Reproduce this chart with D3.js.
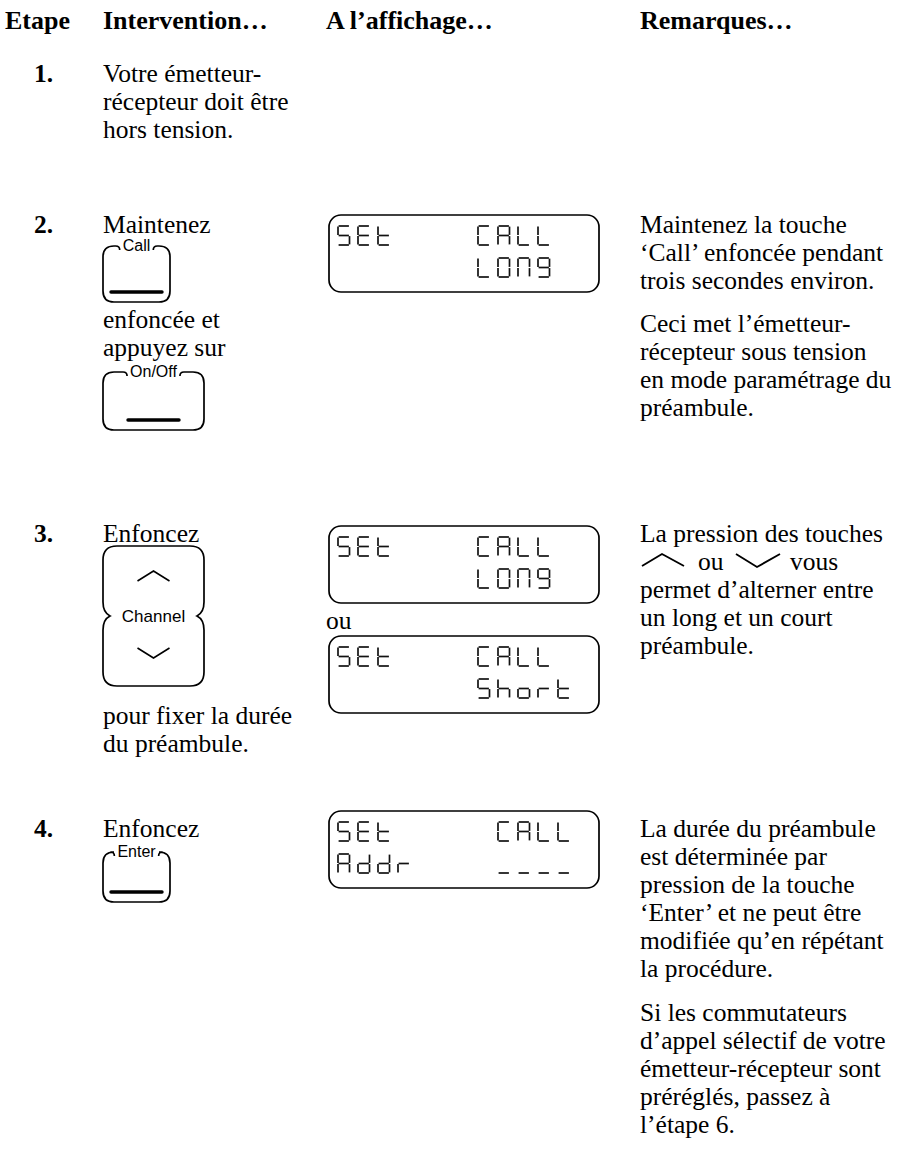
<!DOCTYPE html>
<html><head><meta charset="utf-8">
<script src="https://cdn.jsdelivr.net/npm/d3@7"></script>
<style>body{margin:0;background:#fff}svg{display:block}</style>
</head><body>
<svg id="c" width="903" height="1160"></svg>
<script>
// ---------- content ----------
const headerLabels = ["Etape", "Intervention…", "A l’affichage…", "Remarques…"];
const stepNumbers = ["1.", "2.", "3.", "4."];
const step1Text = ["Votre émetteur-", "récepteur doit être", "hors tension."];
const step2Before = ["Maintenez"];
const step2Middle = ["enfoncée et", "appuyez sur"];
const step3Before = ["Enfoncez"];
const step3After = ["pour fixer la durée", "du préambule."];
const step4Before = ["Enfoncez"];
const buttonLabels = ["Call", "On/Off", "Channel", "Enter"];
const lcdScreens = [
  ["SEt    CALL ", "       LONG "],
  ["SEt    CALL ", "       LONG "],
  ["SEt    CALL ", "       Short"],
  ["SEt     CALL", "Addr    ----"]
];
const orWord = "ou";
const remarks2 = [
  ["Maintenez la touche", "‘Call’ enfoncée pendant", "trois secondes environ."],
  ["Ceci met l’émetteur-", "récepteur sous tension", "en mode paramétrage du", "préambule."]
];
const remarks3 = ["La pression des touches", "", "permet d’alterner entre", "un long et un court", "préambule."];
const remarks3Inline = ["ou", "vous"];
const remarks4 = [
  ["La durée du préambule", "est déterminée par", "pression de la touche", "‘Enter’ et ne peut être", "modifiée qu’en répétant", "la procédure."],
  ["Si les commutateurs", "d’appel sélectif de votre", "émetteur-récepteur sont", "préréglés, passez à", "l’étape 6."]
];

// ---------- layout ----------
const svg = d3.select("#c");
const SERIF = "'Liberation Serif', 'Times New Roman', serif";
const SANS = "'Liberation Sans', Arial, sans-serif";
const FS = 25.5, LH = 28, HFS = 26;
const INK = "#000";
const colX = d3.scaleOrdinal().domain(headerLabels).range([5, 103, 326, 640]);
const numX = 34;

function lines(arr, x, y0, opts = {}) {
  const ly = d3.scaleLinear().domain([0, 1]).range([y0, y0 + LH]);
  svg.append("g").selectAll("text").data(arr).join("text")
    .attr("x", x).attr("y", (d, i) => ly(i))
    .attr("font-family", SERIF).attr("font-size", FS)
    .attr("fill", INK).text(d => d);
}
function paragraphs(paras, x, y0, gap) {
  let y = y0;
  paras.forEach(p => { lines(p, x, y); y += p.length * LH + gap; });
}

// header
svg.append("g").selectAll("text").data(headerLabels).join("text")
  .attr("x", d => colX(d)).attr("y", 29)
  .attr("font-family", SERIF).attr("font-size", HFS).attr("font-weight", "bold")
  .attr("fill", INK).text(d => d);

// step numbers
const stepY = d3.scaleOrdinal().domain(stepNumbers).range([82, 233, 542, 837]);
svg.append("g").selectAll("text").data(stepNumbers).join("text")
  .attr("x", numX).attr("y", d => stepY(d))
  .attr("font-family", SERIF).attr("font-size", FS).attr("font-weight", "bold")
  .attr("fill", INK).text(d => d);

const cx = colX(headerLabels[1]);
lines(step1Text, cx, stepY("1."));
lines(step2Before, cx, stepY("2."));
lines(step2Middle, cx, 328);
lines(step3Before, cx, stepY("3."));
lines(step3After, cx, 724);
lines(step4Before, cx, stepY("4."));

// ---------- buttons ----------
function labelledButton(x, y, w, h, label, barInset) {
  const g = svg.append("g");
  const t = g.append("text").attr("x", x + w / 2).attr("y", y + 5)
    .attr("text-anchor", "middle").attr("font-family", SANS).attr("font-size", 16)
    .attr("fill", INK).text(label);
  const tw = t.node().getComputedTextLength();
  const gx1 = x + w / 2 - tw / 2 - 3, gx2 = x + w / 2 + tw / 2 + 3, r = 11;
  const p = d3.path();
  p.moveTo(gx1, y + 4);
  p.quadraticCurveTo(gx1, y, gx1 - 4, y);
  p.lineTo(x + r, y);
  p.quadraticCurveTo(x, y, x, y + r);
  p.lineTo(x, y + h - r);
  p.quadraticCurveTo(x, y + h, x + r, y + h);
  p.lineTo(x + w - r, y + h);
  p.quadraticCurveTo(x + w, y + h, x + w, y + h - r);
  p.lineTo(x + w, y + r);
  p.quadraticCurveTo(x + w, y, x + w - r, y);
  p.lineTo(gx2 + 4, y);
  p.quadraticCurveTo(gx2, y, gx2, y + 4);
  g.append("path").attr("d", p.toString()).attr("fill", "none").attr("stroke", INK).attr("stroke-width", 1.7);
  g.append("line").attr("x1", x + barInset).attr("x2", x + w - barInset)
    .attr("y1", y + h - 10).attr("y2", y + h - 10)
    .attr("stroke", INK).attr("stroke-width", 3.4).attr("stroke-linecap", "round");
}
labelledButton(103, 246, 67, 56, buttonLabels[0], 8);
labelledButton(103, 372, 101, 58, buttonLabels[1], 25);
labelledButton(103, 852, 67, 50, buttonLabels[3], 8);

// channel button
(function () {
  const x0 = 103, x1 = 204, y0 = 546, y1 = 686, mid = (y0 + y1) / 2, r = 14;
  const g = svg.append("g");
  const p = d3.path();
  p.moveTo(x0 + r, y0);
  p.lineTo(x1 - r, y0);
  p.quadraticCurveTo(x1, y0, x1, y0 + r);
  p.lineTo(x1, mid - 14);
  p.bezierCurveTo(x1, mid - 5, x1 - 3, mid - 2, x1 - 7, mid);
  p.bezierCurveTo(x1 - 3, mid + 2, x1, mid + 5, x1, mid + 14);
  p.lineTo(x1, y1 - r);
  p.quadraticCurveTo(x1, y1, x1 - r, y1);
  p.lineTo(x0 + r, y1);
  p.quadraticCurveTo(x0, y1, x0, y1 - r);
  p.lineTo(x0, mid + 14);
  p.bezierCurveTo(x0, mid + 5, x0 + 3, mid + 2, x0 + 7, mid);
  p.bezierCurveTo(x0 + 3, mid - 2, x0, mid - 5, x0, mid - 14);
  p.lineTo(x0, y0 + r);
  p.quadraticCurveTo(x0, y0, x0 + r, y0);
  p.closePath();
  g.append("path").attr("d", p.toString()).attr("fill", "none").attr("stroke", INK).attr("stroke-width", 1.7);
  g.append("text").attr("x", (x0 + x1) / 2).attr("y", mid + 6).attr("text-anchor", "middle")
    .attr("font-family", SANS).attr("font-size", 17).attr("fill", INK).text(buttonLabels[2]);
  const c = (x0 + x1) / 2;
  g.append("path").attr("d", `M${c - 16},${y0 + 35}L${c},${y0 + 25}L${c + 16},${y0 + 35}`)
    .attr("fill", "none").attr("stroke", INK).attr("stroke-width", 1.6);
  g.append("path").attr("d", `M${c - 16},${y1 - 38}L${c},${y1 - 28}L${c + 16},${y1 - 38}`)
    .attr("fill", "none").attr("stroke", INK).attr("stroke-width", 1.6);
})();

// ---------- LCD displays ----------
const SEG = {
  a: [[0, 0], [1, 0]], b: [[1, 0], [1, .5]], c: [[1, .5], [1, 1]], d: [[0, 1], [1, 1]],
  e: [[0, .5], [0, 1]], f: [[0, 0], [0, .5]], g: [[0, .5], [1, .5]]
};
const GLYPH = {
  S: "afgcd", E: "afged", t: "fegd", C: "afed", A: "abcefg", L: "fed", O: "abcdef",
  N: "abcef", G: "abcdfg", h: "fegc", o: "gcde", r: "eg", d: "bcdeg", "-": "d"
};
const lcdCol = d3.scaleLinear().domain([0, 1]).range([338, 358]);
const GW = 11.5, GH = 19;
function lcd(x, y, w, h, rows) {
  const g = svg.append("g");
  g.append("rect").attr("x", x).attr("y", y).attr("width", w).attr("height", h)
    .attr("rx", 12).attr("fill", "none").attr("stroke", INK).attr("stroke-width", 1.7);
  const rowY = d3.scaleLinear().domain([0, 1]).range([y + 11, y + 43]);
  rows.forEach((row, ri) => {
    row.split("").forEach((ch, ci) => {
      const segs = GLYPH[ch];
      if (!segs) return;
      const gx = lcdCol(ci), gy = rowY(ri);
      segs.split("").forEach(s => {
        const [[ax, ay], [bx, by]] = SEG[s];
        const horiz = ay === by;
        const inset = 0.6;
        g.append("line")
          .attr("x1", gx + ax * GW + (horiz ? inset : 0)).attr("y1", gy + ay * GH + (horiz ? 0 : inset))
          .attr("x2", gx + bx * GW - (horiz ? inset : 0)).attr("y2", gy + by * GH - (horiz ? 0 : inset))
          .attr("stroke", "#111").attr("stroke-width", 1.7);
      });
    });
  });
}
const lcdX = colX(headerLabels[2]) + 3, lcdW = 270, lcdH = 77;
const lcdY = [215, 526, 636, 811];
lcdScreens.forEach((rows, i) => lcd(lcdX, lcdY[i], lcdW, lcdH, rows));
svg.append("text").attr("x", colX(headerLabels[2])).attr("y", 629)
  .attr("font-family", SERIF).attr("font-size", FS).attr("fill", INK).text(orWord);

// ---------- remarks ----------
const rx = colX(headerLabels[3]);
paragraphs(remarks2, rx, stepY("2."), 15);
lines(remarks3, rx, stepY("3."));
(function () {
  const y = stepY("3.") + LH;
  const g = svg.append("g");
  g.append("path").attr("d", `M${rx + 2},${y - 4}L${rx + 22},${y - 16}L${rx + 44},${y - 4}`)
    .attr("fill", "none").attr("stroke", INK).attr("stroke-width", 1.9);
  g.append("text").attr("x", rx + 58).attr("y", y).attr("font-family", SERIF).attr("font-size", FS)
    .attr("fill", INK).text(remarks3Inline[0]);
  g.append("path").attr("d", `M${rx + 96},${y - 16}L${rx + 117},${y - 3}L${rx + 140},${y - 16}`)
    .attr("fill", "none").attr("stroke", INK).attr("stroke-width", 1.9);
  g.append("text").attr("x", rx + 150).attr("y", y).attr("font-family", SERIF).attr("font-size", FS)
    .attr("fill", INK).text(remarks3Inline[1]);
})();
paragraphs(remarks4, rx, stepY("4."), 16);
</script>
</body></html>
